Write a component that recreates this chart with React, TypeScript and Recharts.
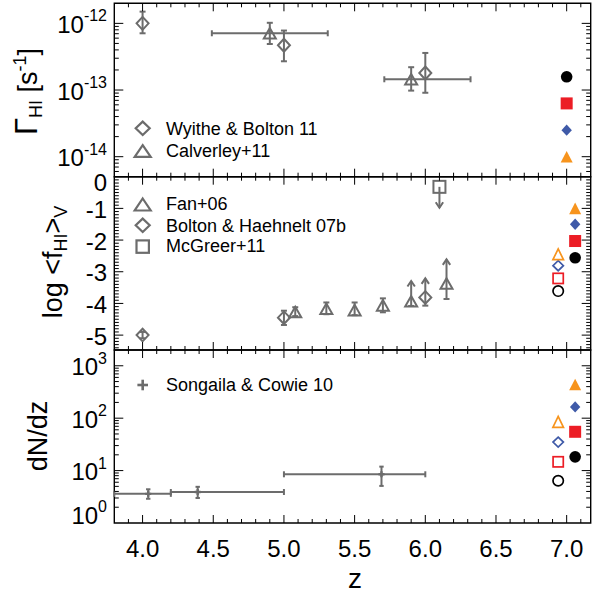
import React from 'react';
import { ScatterChart, Scatter, XAxis, YAxis, ErrorBar, ReferenceArea, Legend } from 'recharts';

const W = 595;
const H = 593;
const FONT = '"Liberation Sans", Arial, Helvetica, sans-serif';
const GRAY = '#6c6c6c';
const ORANGE = '#f7941d';
const BLUE = '#3f5aa8';
const RED = '#ec1d25';
const BLACK = '#000000';

// ---------- layout (pixels) ----------
const PLOT_LEFT = 114.3;
const PLOT_RIGHT = 590.7;
const PLOT_W = PLOT_RIGHT - PLOT_LEFT;
const TOP_PANEL = [3.3, 176.7];
const MID_PANEL = [176.7, 350];
const BOT_PANEL = [350, 523];

// ---------- x axis (redshift) ----------
const Z_DOMAIN: [number, number] = [3.8, 7.17];
const Z_MAJOR = [4.0, 4.5, 5.0, 5.5, 6.0, 6.5, 7.0];
const Z_LABELS = ['4.0', '4.5', '5.0', '5.5', '6.0', '6.5', '7.0'];

// ---------- panel 1: photoionisation rate ----------
const GAMMA_DOMAIN: [number, number] = [5.01e-15, 2.0e-12];
const GAMMA_MAJOR = [1e-14, 1e-13, 1e-12];
const GAMMA_EXP = ['-14', '-13', '-12'];

const WB_Z = [4.0, 5.0, 6.0];
const WB_GAMMA = [1.0e-12, 4.7e-13, 1.8e-13];
const WB_GAMMA_LO = [7.1e-13, 2.7e-13, 9.1e-14];
const WB_GAMMA_HI = [1.5e-12, 7.8e-13, 3.6e-13];

const CAL_Z = [4.9, 5.9];
const CAL_Z_LO = [4.49, 5.71];
const CAL_Z_HI = [5.31, 6.32];
const CAL_GAMMA = [7.1e-13, 1.45e-13];
const CAL_GAMMA_LO = [4.9e-13, 9.8e-14];
const CAL_GAMMA_HI = [1.02e-12, 2.2e-13];

// model markers: circle, square, diamond, triangle
const MODEL_KINDS = ['circle', 'square', 'diamond', 'triangle'];
const MODEL_COLORS = [BLACK, RED, BLUE, ORANGE];
const MODEL_Z_TOP = 7.0;
const MODEL_GAMMA = [1.58e-13, 6.3e-14, 2.5e-14, 1.0e-14];

// ---------- panel 2: neutral fraction ----------
const FHI_DOMAIN: [number, number] = [-5.47, 0];
const FHI_MAJOR = [-5, -4, -3, -2, -1, 0];
const FHI_LABELS = ['-5', '-4', '-3', '-2', '-1', '0'];

const FAN_Z = [5.08, 5.3, 5.5, 5.7];
const FAN_F = [-4.27, -4.17, -4.21, -4.06];
const FAN_F_LO = [-4.4, -4.34, -4.37, -4.28];
const FAN_F_HI = [-4.12, -3.97, -3.97, -3.84];

const FAN_LIM_Z = [5.9, 6.15];
const FAN_LIM_F = [-3.93, -3.37];
const FAN_LIM_LO = [-4.08, -3.86];
const FAN_LIM_TIP = [-3.29, -2.61];

const BH_Z = [4.0, 5.0];
const BH_F = [-5.0, -4.45];
const BH_F_LO = [-5.1, -4.68];
const BH_F_HI = [-4.9, -4.23];

const BH_LIM_Z = [6.0];
const BH_LIM_F = [-3.81];
const BH_LIM_LO = [-4.07];
const BH_LIM_TIP = [-3.21];

const MCG_Z = [6.1];
const MCG_F = [-0.32];
const MCG_TIP = [-0.98];

const MODEL_Z_OPEN = 6.94;
const MODEL_Z_FILLED = 7.06;
const MODEL_F_FILLED = [-2.56, -2.03, -1.5, -1.0];
const MODEL_F_OPEN = [-3.61, -3.21, -2.81, -2.45];

// ---------- panel 3: dN/dz ----------
const DNDZ_DOMAIN: [number, number] = [1, 2000];
const DNDZ_MAJOR = [1, 10, 100, 1000];
const DNDZ_EXP = ['0', '1', '2', '3'];

const SC_Z = [4.04, 4.39, 5.69];
const SC_Z_LO = [3.8, 4.2, 5.0];
const SC_Z_HI = [4.2, 5.0, 6.0];
const SC_DNDZ = [3.6, 3.9, 8.5];
const SC_DNDZ_LO = [2.9, 3.0, 5.1];
const SC_DNDZ_HI = [4.4, 4.9, 11.9];

const MODEL_DNDZ_FILLED = [18.3, 55, 164, 438];
const MODEL_DNDZ_OPEN = [6.4, 14.7, 35, 85];

// ---------- tick lists ----------
const Z_TICKS: number[] = [];
for (let i = 39; i <= 71; i++) Z_TICKS.push(i / 10);

function logTicks(lo: number, hi: number): number[] {
  const t: number[] = [];
  for (let e = Math.floor(Math.log10(lo)); e <= Math.ceil(Math.log10(hi)); e++) {
    for (let m = 1; m <= 9; m++) {
      const v = m * Math.pow(10, e);
      if (v >= lo * 0.9999 && v <= hi * 1.0001) t.push(v);
    }
  }
  return t;
}
const GAMMA_TICKS = logTicks(GAMMA_DOMAIN[0], GAMMA_DOMAIN[1]);
const DNDZ_TICKS = logTicks(DNDZ_DOMAIN[0], DNDZ_DOMAIN[1]);
const FHI_TICKS: number[] = [];
for (let i = -54; i <= 0; i++) FHI_TICKS.push(i / 10);

// ---------- tick renderers ----------
function YTickLines({ x, y, len }: { x: number; y: number; len: number }) {
  return (
    <g>
      <line x1={x} y1={y} x2={x + len} y2={y} stroke="#000" strokeWidth={1} />
      <line x1={x + PLOT_W} y1={y} x2={x + PLOT_W - len} y2={y} stroke="#000" strokeWidth={1} />
    </g>
  );
}

function PowLabel({ x, y, exp }: { x: number; y: number; exp: string }) {
  return (
    <text x={x - 7.3} y={y} textAnchor="end" fontSize={24} fontFamily={FONT} fill="#000">
      <tspan>10</tspan>
      <tspan dy={-11.5} fontSize={16}>{exp}</tspan>
    </text>
  );
}

function makeLogYTick(majors: number[], exps: string[], domain: [number, number], shift: (i: number) => number) {
  return (p: any) => {
    const { x, y, payload } = p;
    const v = payload.value;
    const mi = majors.findIndex((m) => Math.abs(v / m - 1) < 1e-6);
    const edge = Math.abs(v / domain[0] - 1) < 1e-3 || Math.abs(v / domain[1] - 1) < 1e-3;
    return (
      <g>
        {!edge && <YTickLines x={x} y={y} len={mi >= 0 ? 9 : 4.5} />}
        {mi >= 0 && <PowLabel x={x} y={y + 9.5 + shift(mi)} exp={exps[mi]} />}
      </g>
    );
  };
}

const fhiTick = (p: any) => {
  const { x, y, payload } = p;
  const v = payload.value;
  const mi = FHI_MAJOR.findIndex((m) => Math.abs(v - m) < 1e-6);
  const edge = Math.abs(v - FHI_DOMAIN[0]) < 1e-6 || Math.abs(v - FHI_DOMAIN[1]) < 1e-6;
  return (
    <g>
      {!edge && <YTickLines x={x} y={y} len={mi >= 0 ? 9 : 4.5} />}
      {mi >= 0 && (
        <text x={x - 7.3} y={y + 9.5 + (FHI_MAJOR[mi] === 0 ? 5 : 0)} textAnchor="end" fontSize={24} fontFamily={FONT} fill="#000">
          {FHI_LABELS[mi]}
        </text>
      )}
    </g>
  );
};

function makeXTick(panelH: number, showLabels: boolean) {
  return (p: any) => {
    const { x, y, payload } = p;
    const v = payload.value;
    const mi = Z_MAJOR.findIndex((m) => Math.abs(m - v) < 1e-6);
    const len = mi >= 0 ? 8 : 4;
    return (
      <g>
        <line x1={x} y1={y} x2={x} y2={y - len} stroke="#000" strokeWidth={1} />
        <line x1={x} y1={y - panelH} x2={x} y2={y - panelH + len} stroke="#000" strokeWidth={1} />
        {showLabels && mi >= 0 && (
          <text x={x} y={y + 33.6} textAnchor="middle" fontSize={24} fontFamily={FONT} fill="#000">
            {Z_LABELS[mi]}
          </text>
        )}
      </g>
    );
  };
}

// ---------- markers ----------
function drawMarker(kind: string, cx: number, cy: number, hw: number, hh: number, color: string, filled: boolean, sw: number) {
  const fill = filled ? color : 'none';
  const stroke = filled ? 'none' : color;
  switch (kind) {
    case 'circle':
      return <circle cx={cx} cy={cy} r={hw} fill={fill} stroke={stroke} strokeWidth={sw} />;
    case 'square':
      return <rect x={cx - hw} y={cy - hh} width={2 * hw} height={2 * hh} fill={fill} stroke={stroke} strokeWidth={sw} />;
    case 'diamond':
      return (
        <polygon
          points={`${cx},${cy - hh} ${cx + hw},${cy} ${cx},${cy + hh} ${cx - hw},${cy}`}
          fill={fill}
          stroke={stroke}
          strokeWidth={sw}
        />
      );
    case 'triangle':
      return (
        <polygon
          points={`${cx},${cy - hh} ${cx + hw},${cy + hh} ${cx - hw},${cy + hh}`}
          fill={fill}
          stroke={stroke}
          strokeWidth={sw}
        />
      );
    case 'plus':
      return (
        <g stroke={color} strokeWidth={sw}>
          <line x1={cx - hw} y1={cy} x2={cx + hw} y2={cy} />
          <line x1={cx} y1={cy - hh} x2={cx} y2={cy + hh} />
        </g>
      );
    default:
      return <g />;
  }
}

const shapeOf = (kind: string, hw: number, hh: number, color: string, filled: boolean, sw: number) => (p: any) =>
  drawMarker(kind, p.cx, p.cy, hw, hh, color, filled, sw);

const FILLED_SIZE = [
  [5.8, 5.8],
  [6, 6],
  [5.2, 5.7],
  [6, 5.8],
];
const OPEN_SIZE = [
  [5.2, 5.2],
  [5.1, 5.1],
  [5.2, 5.0],
  [5.3, 5.4],
];

function modelSeries(prefix: string, z: number, values: number[], filled: boolean) {
  return values.map((v, i) => {
    const s = filled ? FILLED_SIZE[i] : OPEN_SIZE[i];
    return (
      <Scatter
        key={prefix + i}
        data={[{ z, v }]}
        shape={shapeOf(MODEL_KINDS[i], s[0], s[1], MODEL_COLORS[i], filled, 1.7)}
        isAnimationActive={false}
      />
    );
  });
}

const arrowUp = (p: any) => (
  <polyline points={`${p.cx - 3.7},${p.cy + 5.5} ${p.cx},${p.cy} ${p.cx + 3.7},${p.cy + 5.5}`} fill="none" stroke={GRAY} strokeWidth={2} />
);
const arrowDown = (p: any) => (
  <polyline points={`${p.cx - 3.7},${p.cy - 5.5} ${p.cx},${p.cy} ${p.cx + 3.7},${p.cy - 5.5}`} fill="none" stroke={GRAY} strokeWidth={2} />
);
const capShape = (p: any) => <line x1={p.cx - 3} y1={p.cy} x2={p.cx + 3} y2={p.cy} stroke={GRAY} strokeWidth={2} />;

// ---------- data rows ----------
const wbRows = WB_Z.map((z, i) => ({ z, v: WB_GAMMA[i], ey: [WB_GAMMA[i] - WB_GAMMA_LO[i], WB_GAMMA_HI[i] - WB_GAMMA[i]] }));
const calRows = CAL_Z.map((z, i) => ({
  z,
  v: CAL_GAMMA[i],
  ey: [CAL_GAMMA[i] - CAL_GAMMA_LO[i], CAL_GAMMA_HI[i] - CAL_GAMMA[i]],
  ex: [z - CAL_Z_LO[i], CAL_Z_HI[i] - z],
}));

const fanRows = FAN_Z.map((z, i) => ({ z, v: FAN_F[i], ey: [FAN_F[i] - FAN_F_LO[i], FAN_F_HI[i] - FAN_F[i]] }));
const fanLimRows = FAN_LIM_Z.map((z, i) => ({ z, v: FAN_LIM_F[i], ey: [FAN_LIM_F[i] - FAN_LIM_LO[i], FAN_LIM_TIP[i] - FAN_LIM_F[i]] }));
const bhRows = BH_Z.map((z, i) => ({ z, v: BH_F[i], ey: [BH_F[i] - BH_F_LO[i], BH_F_HI[i] - BH_F[i]] }));
const bhLimRows = BH_LIM_Z.map((z, i) => ({ z, v: BH_LIM_F[i], ey: [BH_LIM_F[i] - BH_LIM_LO[i], BH_LIM_TIP[i] - BH_LIM_F[i]] }));
const mcgRows = MCG_Z.map((z, i) => ({ z, v: MCG_F[i], ey: [MCG_F[i] - MCG_TIP[i], 0] }));
const upTipRows = [
  ...FAN_LIM_Z.map((z, i) => ({ z, v: FAN_LIM_TIP[i] })),
  ...BH_LIM_Z.map((z, i) => ({ z, v: BH_LIM_TIP[i] })),
];
const lowCapRows = [
  ...FAN_LIM_Z.map((z, i) => ({ z, v: FAN_LIM_LO[i] })),
  ...BH_LIM_Z.map((z, i) => ({ z, v: BH_LIM_LO[i] })),
];
const downTipRows = MCG_Z.map((z, i) => ({ z, v: MCG_TIP[i] }));

const scRows = SC_Z.map((z, i) => ({
  z,
  v: SC_DNDZ[i],
  ey: [SC_DNDZ[i] - SC_DNDZ_LO[i], SC_DNDZ_HI[i] - SC_DNDZ[i]],
  ex: [z - SC_Z_LO[i], SC_Z_HI[i] - z],
}));

// ---------- overlays (titles + legends) ----------
const txt = { fontFamily: FONT, fill: '#000' } as const;

function TopOverlay() {
  return (
    <svg width={W} height={H} style={{ position: 'absolute', left: 0, top: 0, display: 'block', overflow: 'visible' }}>
      <text transform="translate(37,91.5) rotate(-90)" textAnchor="middle" fontSize={27} {...txt}>
        <tspan fontSize={31}>Γ</tspan>
        <tspan fontSize={18} dy={5}>HI</tspan>
        <tspan dy={-5}>{'\u00a0[s'}</tspan>
        <tspan fontSize={18} dy={-11}>-1</tspan>
        <tspan dy={11}>]</tspan>
      </text>
      {drawMarker('diamond', 142.7, 128.3, 7, 6.7, GRAY, false, 2.2)}
      <text x={166} y={135} fontSize={18} {...txt}>Wyithe &amp; Bolton 11</text>
      {drawMarker('triangle', 142.7, 151, 8, 5.8, GRAY, false, 2.2)}
      <text x={166} y={156.7} fontSize={18} {...txt}>Calverley+11</text>
    </svg>
  );
}

function MidOverlay() {
  return (
    <svg width={W} height={H} style={{ position: 'absolute', left: 0, top: 0, display: 'block', overflow: 'visible' }}>
      <text transform="translate(61.7,262) rotate(-90)" textAnchor="middle" fontSize={27} {...txt}>
        <tspan>{'log <f'}</tspan>
        <tspan fontSize={18} dy={5}>HI</tspan>
        <tspan dy={-5}>{'>'}</tspan>
        <tspan fontSize={18} dy={5}>V</tspan>
      </text>
      {drawMarker('triangle', 142.7, 204.5, 8, 6, GRAY, false, 2.2)}
      <text x={166} y={210} fontSize={18} {...txt}>Fan+06</text>
      {drawMarker('diamond', 142.7, 225.3, 7, 6.7, GRAY, false, 2.2)}
      <text x={166} y={231.7} fontSize={18} {...txt}>Bolton &amp; Haehnelt 07b</text>
      {drawMarker('square', 142.7, 246.6, 6.2, 6.2, GRAY, false, 2.2)}
      <text x={166} y={252.3} fontSize={18} {...txt}>McGreer+11</text>
    </svg>
  );
}

function BotOverlay() {
  return (
    <svg width={W} height={H} style={{ position: 'absolute', left: 0, top: 0, display: 'block', overflow: 'visible' }}>
      <text transform="translate(46.7,436) rotate(-90)" textAnchor="middle" fontSize={27} {...txt}>
        dN/dz
      </text>
      {drawMarker('plus', 142.7, 385, 5.3, 5.3, GRAY, false, 2.6)}
      <text x={166} y={391} fontSize={18} {...txt}>Songaila &amp; Cowie 10</text>
      <text x={355} y={588} textAnchor="middle" fontSize={28} {...txt}>z</text>
    </svg>
  );
}

const legendWrap: React.CSSProperties = {
  position: 'absolute',
  left: 0,
  top: 0,
  width: W,
  height: H,
  margin: 0,
  padding: 0,
  pointerEvents: 'none',
};

function margins(panel: number[]) {
  return { top: panel[0], right: W - PLOT_RIGHT, bottom: H - panel[1] - 1, left: 0 };
}

function xAxisFor(panel: number[], labels: boolean) {
  return (
    <XAxis
      type="number"
      dataKey="z"
      domain={Z_DOMAIN}
      allowDataOverflow
      ticks={Z_TICKS}
      interval={0}
      tickSize={0}
      tickMargin={0}
      tickLine={false}
      axisLine={false}
      height={1}
      tick={makeXTick(panel[1] - panel[0], labels)}
    />
  );
}

const frameProps = { fill: 'none', fillOpacity: 0, stroke: '#000', strokeWidth: 1.4, ifOverflow: 'visible' as const };

export default function App() {
  return (
    <div style={{ position: 'absolute', left: 0, top: 0, width: W, height: H, background: '#fff' }}>
      {/* ---- top panel ---- */}
      <div style={{ position: 'absolute', left: 0, top: 0 }}>
        <ScatterChart width={W} height={H} margin={margins(TOP_PANEL)}>
          {xAxisFor(TOP_PANEL, false)}
          <YAxis
            type="number"
            dataKey="v"
            scale="log"
            domain={GAMMA_DOMAIN}
            allowDataOverflow
            ticks={GAMMA_TICKS}
            interval={0}
            tickSize={0}
            tickMargin={0}
            tickLine={false}
            axisLine={false}
            width={PLOT_LEFT}
            tick={makeLogYTick(GAMMA_MAJOR, GAMMA_EXP, GAMMA_DOMAIN, () => 0)}
          />
          <ReferenceArea x1={Z_DOMAIN[0]} x2={Z_DOMAIN[1]} y1={GAMMA_DOMAIN[0]} y2={GAMMA_DOMAIN[1]} {...frameProps} />
          <Scatter data={wbRows} shape={shapeOf('diamond', 6, 6.5, GRAY, false, 2)} isAnimationActive={false}>
            <ErrorBar dataKey="ey" direction="y" width={3} stroke={GRAY} strokeWidth={2} />
          </Scatter>
          <Scatter data={calRows} shape={shapeOf('triangle', 6, 5.3, GRAY, false, 2)} isAnimationActive={false}>
            <ErrorBar dataKey="ey" direction="y" width={3} stroke={GRAY} strokeWidth={2} />
            <ErrorBar dataKey="ex" direction="x" width={3} stroke={GRAY} strokeWidth={2} />
          </Scatter>
          {modelSeries('gm', MODEL_Z_TOP, MODEL_GAMMA, true)}
          <Legend layout="horizontal" verticalAlign="middle" align="center" wrapperStyle={legendWrap} content={() => <TopOverlay />} />
        </ScatterChart>
      </div>

      {/* ---- middle panel ---- */}
      <div style={{ position: 'absolute', left: 0, top: 0 }}>
        <ScatterChart width={W} height={H} margin={margins(MID_PANEL)}>
          {xAxisFor(MID_PANEL, false)}
          <YAxis
            type="number"
            dataKey="v"
            domain={FHI_DOMAIN}
            allowDataOverflow
            ticks={FHI_TICKS}
            interval={0}
            tickSize={0}
            tickMargin={0}
            tickLine={false}
            axisLine={false}
            width={PLOT_LEFT}
            tick={fhiTick}
          />
          <ReferenceArea x1={Z_DOMAIN[0]} x2={Z_DOMAIN[1]} y1={FHI_DOMAIN[0]} y2={FHI_DOMAIN[1]} {...frameProps} />
          <Scatter data={fanRows} shape={shapeOf('triangle', 6, 5.3, GRAY, false, 2)} isAnimationActive={false}>
            <ErrorBar dataKey="ey" direction="y" width={3} stroke={GRAY} strokeWidth={2} />
          </Scatter>
          <Scatter data={fanLimRows} shape={shapeOf('triangle', 6, 5.3, GRAY, false, 2)} isAnimationActive={false}>
            <ErrorBar dataKey="ey" direction="y" width={0} stroke={GRAY} strokeWidth={2} />
          </Scatter>
          <Scatter data={bhRows} shape={shapeOf('diamond', 6, 6.3, GRAY, false, 2)} isAnimationActive={false}>
            <ErrorBar dataKey="ey" direction="y" width={3} stroke={GRAY} strokeWidth={2} />
          </Scatter>
          <Scatter data={bhLimRows} shape={shapeOf('diamond', 6, 6.3, GRAY, false, 2)} isAnimationActive={false}>
            <ErrorBar dataKey="ey" direction="y" width={0} stroke={GRAY} strokeWidth={2} />
          </Scatter>
          <Scatter data={mcgRows} shape={shapeOf('square', 6, 6, GRAY, false, 2)} isAnimationActive={false}>
            <ErrorBar dataKey="ey" direction="y" width={0} stroke={GRAY} strokeWidth={2} />
          </Scatter>
          <Scatter data={upTipRows} shape={arrowUp} isAnimationActive={false} />
          <Scatter data={lowCapRows} shape={capShape} isAnimationActive={false} />
          <Scatter data={downTipRows} shape={arrowDown} isAnimationActive={false} />
          {modelSeries('fo', MODEL_Z_OPEN, MODEL_F_OPEN, false)}
          {modelSeries('ff', MODEL_Z_FILLED, MODEL_F_FILLED, true)}
          <Legend layout="horizontal" verticalAlign="middle" align="center" wrapperStyle={legendWrap} content={() => <MidOverlay />} />
        </ScatterChart>
      </div>

      {/* ---- bottom panel ---- */}
      <div style={{ position: 'absolute', left: 0, top: 0 }}>
        <ScatterChart width={W} height={H} margin={margins(BOT_PANEL)}>
          {xAxisFor(BOT_PANEL, true)}
          <YAxis
            type="number"
            dataKey="v"
            scale="log"
            domain={DNDZ_DOMAIN}
            allowDataOverflow
            ticks={DNDZ_TICKS}
            interval={0}
            tickSize={0}
            tickMargin={0}
            tickLine={false}
            axisLine={false}
            width={PLOT_LEFT}
            tick={makeLogYTick(DNDZ_MAJOR, DNDZ_EXP, DNDZ_DOMAIN, (i) => (DNDZ_MAJOR[i] === 1 ? -9 : 0))}
          />
          <ReferenceArea x1={Z_DOMAIN[0]} x2={Z_DOMAIN[1]} y1={DNDZ_DOMAIN[0]} y2={DNDZ_DOMAIN[1]} {...frameProps} />
          <Scatter data={scRows} shape={shapeOf('plus', 3, 3, GRAY, false, 2.4)} isAnimationActive={false}>
            <ErrorBar dataKey="ey" direction="y" width={2.2} stroke={GRAY} strokeWidth={2} />
            <ErrorBar dataKey="ex" direction="x" width={3} stroke={GRAY} strokeWidth={2} />
          </Scatter>
          {modelSeries('do', MODEL_Z_OPEN, MODEL_DNDZ_OPEN, false)}
          {modelSeries('df', MODEL_Z_FILLED, MODEL_DNDZ_FILLED, true)}
          <Legend layout="horizontal" verticalAlign="middle" align="center" wrapperStyle={legendWrap} content={() => <BotOverlay />} />
        </ScatterChart>
      </div>
    </div>
  );
}
